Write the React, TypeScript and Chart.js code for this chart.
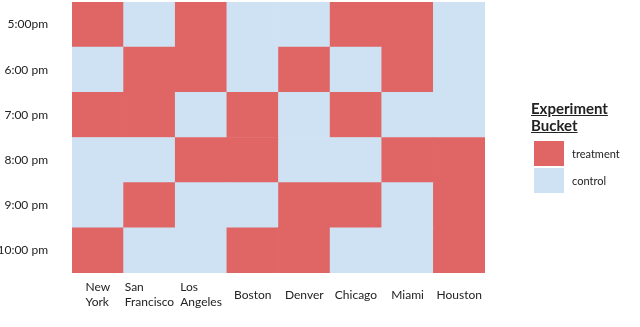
import React, { useEffect, useRef } from 'react';
import { Chart, registerables } from 'chart.js';

Chart.register(...registerables);

const cities: string[][] = [
  ['New', 'York'],
  ['San', 'Francisco'],
  ['Los', 'Angeles'],
  ['Boston'],
  ['Denver'],
  ['Chicago'],
  ['Miami'],
  ['Houston'],
];
const hours = ['5:00pm', '6:00 pm', '7:00 pm', '8:00 pm', '9:00 pm', '10:00 pm'];

// 1 = treatment, 0 = control (one array per hour, one value per city)
const row5pm = [1, 0, 1, 0, 0, 1, 1, 0];
const row6pm = [0, 1, 1, 0, 1, 0, 1, 0];
const row7pm = [1, 1, 0, 1, 0, 1, 0, 0];
const row8pm = [0, 0, 1, 1, 0, 0, 1, 1];
const row9pm = [0, 1, 0, 0, 1, 1, 0, 1];
const row10pm = [1, 0, 0, 1, 1, 0, 0, 1];
const assignments = [row5pm, row6pm, row7pm, row8pm, row9pm, row10pm];

const bucketLabels = ['treatment', 'control'];
const bucketColors = ['#E06666', '#CFE2F3'];

const FONT = 'Lato, "Open Sans", sans-serif';

export default function App() {
  const canvasRef = useRef<HTMLCanvasElement | null>(null);

  useEffect(() => {
    document.body.style.margin = '0';
    const canvas = canvasRef.current;
    if (!canvas) return;

    const n = hours.length;
    const datasets = [] as any[];
    for (let i = n - 1; i >= 0; i--) {
      datasets.push({
        label: hours[i],
        data: cities.map(() => 1),
        backgroundColor: assignments[i].map((v) => (v ? bucketColors[0] : bucketColors[1])),
        borderWidth: 0,
        barPercentage: 1,
        categoryPercentage: 1,
      });
    }

    const xLabelPlugin = {
      id: 'xLabels',
      afterDraw(chart: any) {
        const ctx = chart.ctx;
        const xScale = chart.scales.x;
        const bottom = chart.chartArea.bottom;
        ctx.save();
        ctx.font = `12px ${FONT}`;
        ctx.fillStyle = '#222';
        ctx.textBaseline = 'middle';
        ctx.textAlign = 'left';
        cities.forEach((lines, i) => {
          const cx = xScale.getPixelForValue(i);
          const maxW = Math.max(...lines.map((l) => ctx.measureText(l).width));
          const sx = cx - maxW / 2;
          if (lines.length === 2) {
            ctx.fillText(lines[0], sx, bottom + 14);
            ctx.fillText(lines[1], sx, bottom + 29);
          } else {
            ctx.fillText(lines[0], sx, bottom + 22);
          }
        });
        ctx.restore();
      },
    };

    const chart = new Chart(canvas, {
      type: 'bar',
      data: {
        labels: cities.map((c) => c.join(' ')),
        datasets,
      },
      options: {
        animation: false,
        responsive: false,
        layout: { padding: { top: 2, right: 155, left: 0, bottom: 54 } },
        plugins: {
          legend: { display: false },
          tooltip: { enabled: false },
        },
        scales: {
          x: {
            stacked: true,
            grid: { display: false, drawTicks: false },
            border: { display: false },
            ticks: { display: false },
          },
          y: {
            stacked: true,
            min: 0,
            max: n,
            grid: { display: false, drawTicks: false },
            border: { display: false },
            afterBuildTicks: (scale: any) => {
              scale.ticks = hours.map((_, i) => ({ value: n - 0.5 - i }));
            },
            ticks: {
              padding: 24,
              color: '#222',
              font: { family: FONT, size: 12 },
              callback: (v: any) => hours[Math.round(n - 0.5 - Number(v))],
            },
            afterFit: (scale: any) => {
              scale.width = 72;
              scale.paddingTop = 0;
              scale.paddingBottom = 0;
            },
          },
        },
      },
      plugins: [xLabelPlugin],
    });

    return () => chart.destroy();
  }, []);

  return (
    <div style={{ position: 'relative', width: 640, height: 327, background: '#fff', overflow: 'hidden', fontFamily: FONT }}>
      <canvas ref={canvasRef} width={640} height={327} style={{ position: 'absolute', left: 0, top: 0 }} />
      <div
        style={{
          position: 'absolute',
          left: 531,
          top: 100,
          fontWeight: 700,
          fontSize: 15,
          lineHeight: '17px',
          color: '#222',
          textDecoration: 'underline',
        }}
      >
        Experiment
        <br />
        Bucket
      </div>
      {bucketLabels.map((lab, i) => (
        <div key={lab} style={{ position: 'absolute', left: 534, top: 141 + i * 27, height: 25, display: 'flex', alignItems: 'center' }}>
          <div style={{ width: 30, height: 25, background: bucketColors[i] }} />
          <span style={{ marginLeft: 8, fontSize: 11, color: '#222' }}>{lab}</span>
        </div>
      ))}
    </div>
  );
}
